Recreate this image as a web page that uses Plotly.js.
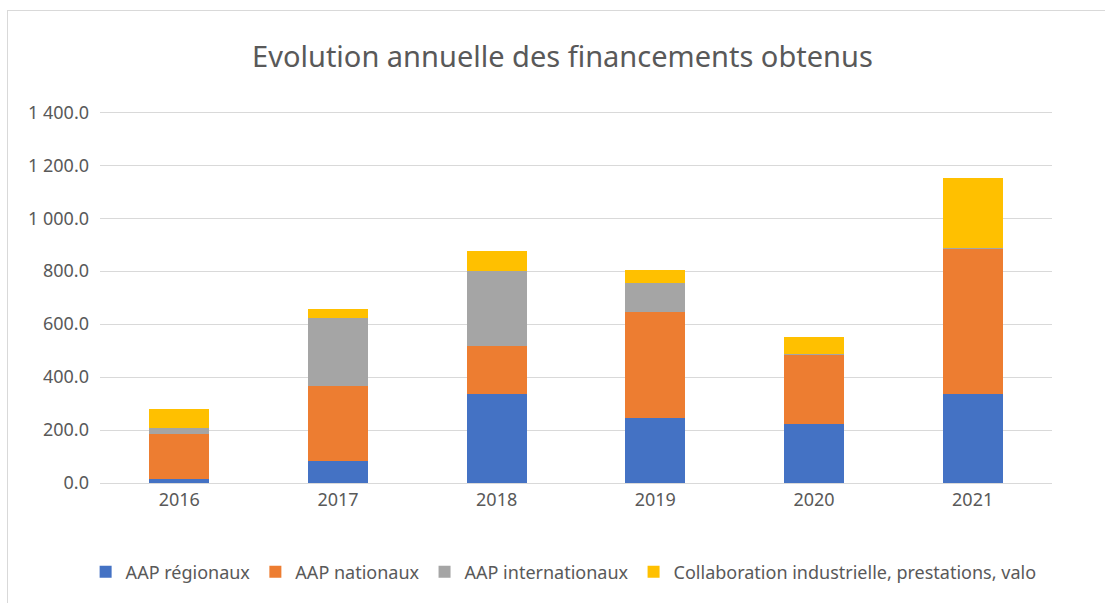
<!DOCTYPE html>
<html>
<head>
<meta charset="utf-8">
<script src="https://cdn.plot.ly/plotly-3.0.1.min.js"></script>
<style>
  html, body { margin: 0; padding: 0; background: #ffffff; }
  #chart { width: 1105px; height: 603px; }
  #frame { position: absolute; left: 7px; top: 10px; width: 1200px; height: 700px;
           border: 1px solid #d9d9d9; pointer-events: none; }
</style>
</head>
<body>
<div id="chart"></div>
<div id="frame"></div>
<script>
const years = ['2016', '2017', '2018', '2019', '2020', '2021'];
const aapRegionaux = [16, 84, 338, 247, 224, 338];
const aapNationaux = [168, 283, 180, 399, 261, 544];
const aapInternationaux = [25, 258, 283, 108, 3, 6];
const collaboration = [69, 33, 77, 49, 63, 262];
const seriesNames = ['AAP régionaux', 'AAP nationaux', 'AAP internationaux',
                     'Collaboration industrielle, prestations, valo'];
const yTicks = [0, 200, 400, 600, 800, 1000, 1200, 1400];
const yTickText = ['0.0', '200.0', '400.0', '600.0', '800.0', '1 000.0', '1 200.0', '1 400.0'];

const colors = ['#4472C4', '#ED7D31', '#A5A5A5', '#FFC000'];
const values = [aapRegionaux, aapNationaux, aapInternationaux, collaboration];
const font = 'Noto Sans, Open Sans, sans-serif';

const traces = values.map((v, i) => ({
  type: 'bar', x: years, y: v, name: seriesNames[i],
  marker: { color: colors[i], line: { width: 0 } },
  hoverinfo: 'x+y+name'
}));

const layout = {
  width: 1105, height: 603,
  barmode: 'stack', bargap: 0.62,
  paper_bgcolor: '#ffffff', plot_bgcolor: '#ffffff',
  margin: { l: 100, r: 53, t: 107, b: 120 },
  title: { text: 'Evolution annuelle des financements obtenus',
           font: { family: font, size: 29, color: '#595959' },
           x: 0.509, xanchor: 'center', y: 0.905, yanchor: 'middle' },
  xaxis: { type: 'category', showgrid: false, showline: false, zeroline: false,
           ticks: '', ticklabelstandoff: 4,
           tickfont: { family: font, size: 18, color: '#595959' } },
  yaxis: { range: [0, 1420], tickvals: yTicks, ticktext: yTickText,
           showgrid: true, gridcolor: '#d9d9d9', gridwidth: 1,
           zeroline: true, zerolinecolor: '#d9d9d9', zerolinewidth: 1,
           showline: false, ticks: '', ticklen: 0, ticklabelstandoff: 10,
           tickfont: { family: font, size: 18, color: '#595959' } },
  legend: { orientation: 'h', x: 0.487, xanchor: 'center', y: -0.237, yanchor: 'middle',
            font: { family: font, size: 18, color: '#595959' }, traceorder: 'normal',
            itemwidth: 30 },
  showlegend: true
};

Plotly.newPlot('chart', traces, layout, { displayModeBar: false, staticPlot: true });
</script>
</body>
</html>
